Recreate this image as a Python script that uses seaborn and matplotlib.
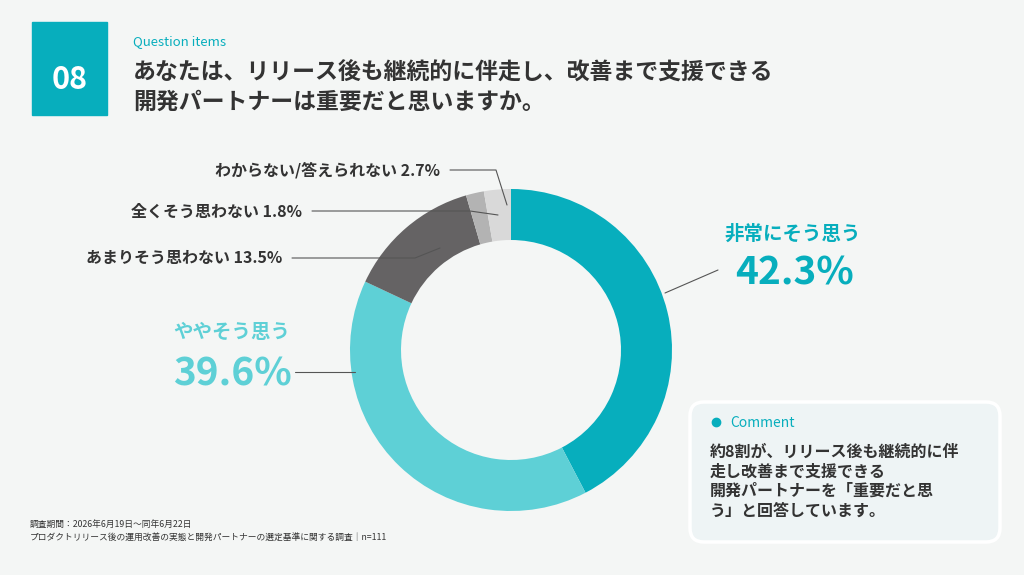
import matplotlib
matplotlib.use("Agg")
import matplotlib.pyplot as plt
import seaborn as sns
from matplotlib.patches import FancyBboxPatch, Rectangle

sns.set_theme(style="white")
plt.rcParams["font.family"] = ["Noto Sans CJK JP", "DejaVu Sans"]

# --- data ---
labels = ["非常にそう思う", "ややそう思う", "あまりそう思わない", "全くそう思わない", "わからない/答えられない"]
values = [42.3, 39.6, 13.5, 1.8, 2.7]
colors = ["#07AEBD", "#5ED0D6", "#656364", "#B3B3B3", "#D9D9D9"]

BG = "#F4F6F5"
TEAL = "#07AEBD"
TXT = "#333333"

fig = plt.figure(figsize=(10.24, 5.75), dpi=100, facecolor=BG)
ax = fig.add_axes([0, 0, 1, 1])
ax.set_facecolor(BG)

# header
ax.add_patch(Rectangle((32, 22), 75, 93, color=TEAL, zorder=1))
ax.text(69.5, 80, "08", color="white", fontsize=22, fontweight="bold", ha="center", va="center")
ax.text(133, 42, "Question items", color=TEAL, fontsize=9.5, va="center")
ax.text(133, 72, "あなたは、リリース後も継続的に伴走し、改善まで支援できる", color=TXT,
        fontsize=16.5, fontweight="bold", va="center")
ax.text(133, 102, "開発パートナーは重要だと思いますか。", color=TXT,
        fontsize=16.5, fontweight="bold", va="center")

# donut (y axis is inverted, so counterclock=True draws clockwise on screen)
cx, cy, r = 511, 350, 161
ax.pie(values, colors=colors, startangle=-90, counterclock=True,
       center=(cx, cy), radius=r, frame=True,
       wedgeprops=dict(width=r - 110, edgecolor="none"))
ax.set_xlim(0, 1024)
ax.set_ylim(575, 0)
ax.set_aspect("auto")
ax.axis("off")

# leader lines and labels
line_kw = dict(color="#555555", lw=0.8)
ax.plot([665, 718, 718], [293, 270, 270], **line_kw)
ax.text(793, 234, labels[0], color=TEAL, fontsize=14, fontweight="bold", ha="center", va="center")
ax.text(795, 273, f"{values[0]}%", color=TEAL, fontsize=28, fontweight="bold", ha="center", va="center")

ax.plot([295, 355], [372, 372], **line_kw)
ax.text(232, 332, labels[1], color="#5ED0D6", fontsize=14, fontweight="bold", ha="center", va="center")
ax.text(232, 374, f"{values[1]}%", color="#5ED0D6", fontsize=28, fontweight="bold", ha="center", va="center")

ax.plot([292, 415, 440], [258, 258, 248], **line_kw)
ax.text(282, 258, f"{labels[2]} {values[2]}%", color=TXT, fontsize=11.5, fontweight="bold", ha="right", va="center")

ax.plot([312, 470, 498], [211, 211, 215], **line_kw)
ax.text(302, 212, f"{labels[3]} {values[3]}%", color=TXT, fontsize=11.5, fontweight="bold", ha="right", va="center")

ax.plot([450, 496, 507], [170, 170, 205], **line_kw)
ax.text(440, 170, f"{labels[4]} {values[4]}%", color=TXT, fontsize=11.5, fontweight="bold", ha="right", va="center")

# comment box
ax.add_patch(FancyBboxPatch((690, 402), 310, 140, boxstyle="round,pad=0,rounding_size=14",
                            facecolor="#EEF4F5", edgecolor="white", lw=2.5, zorder=2))
ax.plot([716], [422], marker="o", color=TEAL, ms=6, zorder=3)
ax.text(730, 423, "Comment", color=TEAL, fontsize=10, va="center", zorder=3)
comment = ["約8割が、リリース後も継続的に伴", "走し改善まで支援できる",
           "開発パートナーを「重要だと思", "う」と回答しています。"]
for i, line in enumerate(comment):
    ax.text(710, 452 + i * 19.5, line, color=TXT, fontsize=11.5, fontweight="bold", va="center", zorder=3)

# footer
ax.text(30, 524, "調査期間：2026年6月19日〜同年6月22日", color=TXT, fontsize=6.3, va="center")
ax.text(30, 537, "プロダクトリリース後の運用改善の実態と開発パートナーの選定基準に関する調査｜n=111",
        color=TXT, fontsize=6.3, va="center")

fig.savefig("out.png", dpi=100, facecolor=BG)
